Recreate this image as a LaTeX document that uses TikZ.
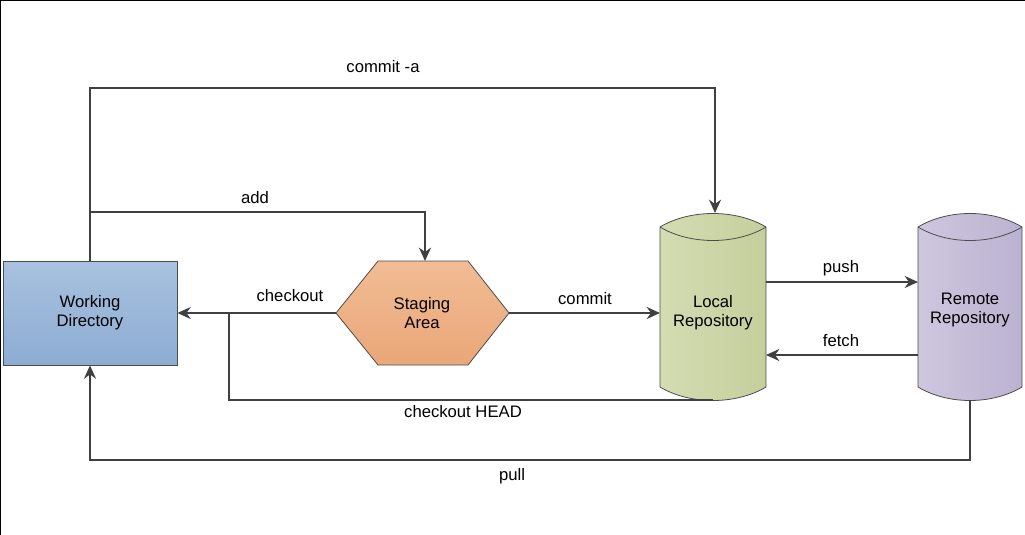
\documentclass[tikz,border=0pt]{standalone}
\usepackage{fontspec}
\setmainfont{Liberation Sans}
\usetikzlibrary{arrows.meta,shapes.geometric}
\begin{document}
\begin{tikzpicture}[x=0.75pt,y=-0.75pt,font=\fontsize{12.5pt}{14.5pt}\selectfont,
  con/.style={draw=black!75,line width=1.5pt},
  arr/.style={con,-{Stealth[length=10pt,width=9pt]}},
  lbl/.style={inner sep=0pt,text=black},
  box/.style={draw=black!70,line width=0.6pt,align=center}]
\useasboundingbox (0,0) rectangle (1025,535);
\draw[black,line width=1.5pt] (0,535) -- (0,0) -- (1025,0);
% Working directory
\node[box,minimum width=130.5pt,minimum height=78pt,top color=blue!10!cyan!5!blue!30!white,
  top color={rgb,255:red,168;green,194;blue,222},bottom color={rgb,255:red,141;green,172;blue,211}]
  (wd) at (90,313) {Working\\Directory};
% Staging
\coordinate (hL) at (336,313); \coordinate (hR) at (509,313);
\shade[top color={rgb,255:red,241;green,188;blue,148},bottom color={rgb,255:red,234;green,167;blue,120},draw=black!70,line width=0.6pt]
  (336,313) -- (378,261) -- (468,261) -- (509,313) -- (468,365) -- (378,365) -- cycle;
\node[lbl,align=center] (sa) at (422,313) {Staging\\Area};
\coordinate (saT) at (425,261);
% Local repo
\shade[left color={rgb,255:red,212;green,220;blue,178},right color={rgb,255:red,196;green,207;blue,156},draw=black!70,line width=0.6pt]
  (660,227) .. controls (690,209) and (736,209) .. (766,227) -- (766,387) .. controls (736,405) and (690,405) .. (660,387) -- cycle;
\draw[black!70,line width=0.6pt] (660,227) .. controls (690,245) and (736,245) .. (766,227);
\node[lbl,align=center] (lr) at (713,313) {Local\\Repository};
\coordinate (lrT) at (715,213); \coordinate (lrB) at (713,400);
% Remote repo
\shade[left color={rgb,255:red,207;green,199;blue,222},right color={rgb,255:red,186;green,178;blue,208},draw=black!70,line width=0.6pt]
  (918,227) .. controls (948,209) and (992,209) .. (1022,227) -- (1022,387) .. controls (992,405) and (948,405) .. (918,387) -- cycle;
\draw[black!70,line width=0.6pt] (918,227) .. controls (948,245) and (992,245) .. (1022,227);
\node[lbl,align=center] (rr) at (970,310) {Remote\\Repository};
\coordinate (rrB) at (970,400);
% connectors
\coordinate (ca1) at (90,88); \coordinate (ca2) at (715,88);
\draw[arr] (wd.north) -- (ca1) -- (ca2) -- (lrT);
\node[lbl] (lca) at (383,67) {commit -a};
\coordinate (ad1) at (90,212); \coordinate (ad2) at (425,212);
\draw[arr] (ad1) -- (ad2) -- (saT);
\node[lbl] (lad) at (255,198) {add};
\draw[arr] (hL) -- (wd.east);
\node[lbl] (lco) at (290,296) {checkout};
\coordinate (ch1) at (229,400); \coordinate (ch2) at (229,313);
\draw[con] (lrB) -- (ch1) -- (ch2);
\node[lbl] (lch) at (463,412) {checkout HEAD};
\draw[arr] (hR) -- (660,313) coordinate (lrL);
\node[lbl] (lcm) at (585,299) {commit};
\coordinate (pu1) at (766,282); \coordinate (pu2) at (918,282);
\draw[arr] (pu1) -- (pu2);
\node[lbl] (lpu) at (841,268) {push};
\coordinate (fe1) at (918,355); \coordinate (fe2) at (766,355);
\draw[arr] (fe1) -- (fe2);
\node[lbl] (lfe) at (841,341) {fetch};
\coordinate (pl1) at (970,460); \coordinate (pl2) at (90,460);
\draw[arr] (rrB) -- (pl1) -- (pl2) -- (wd.south);
\node[lbl] (lpl) at (512,476) {pull};
\end{tikzpicture}
\end{document}
